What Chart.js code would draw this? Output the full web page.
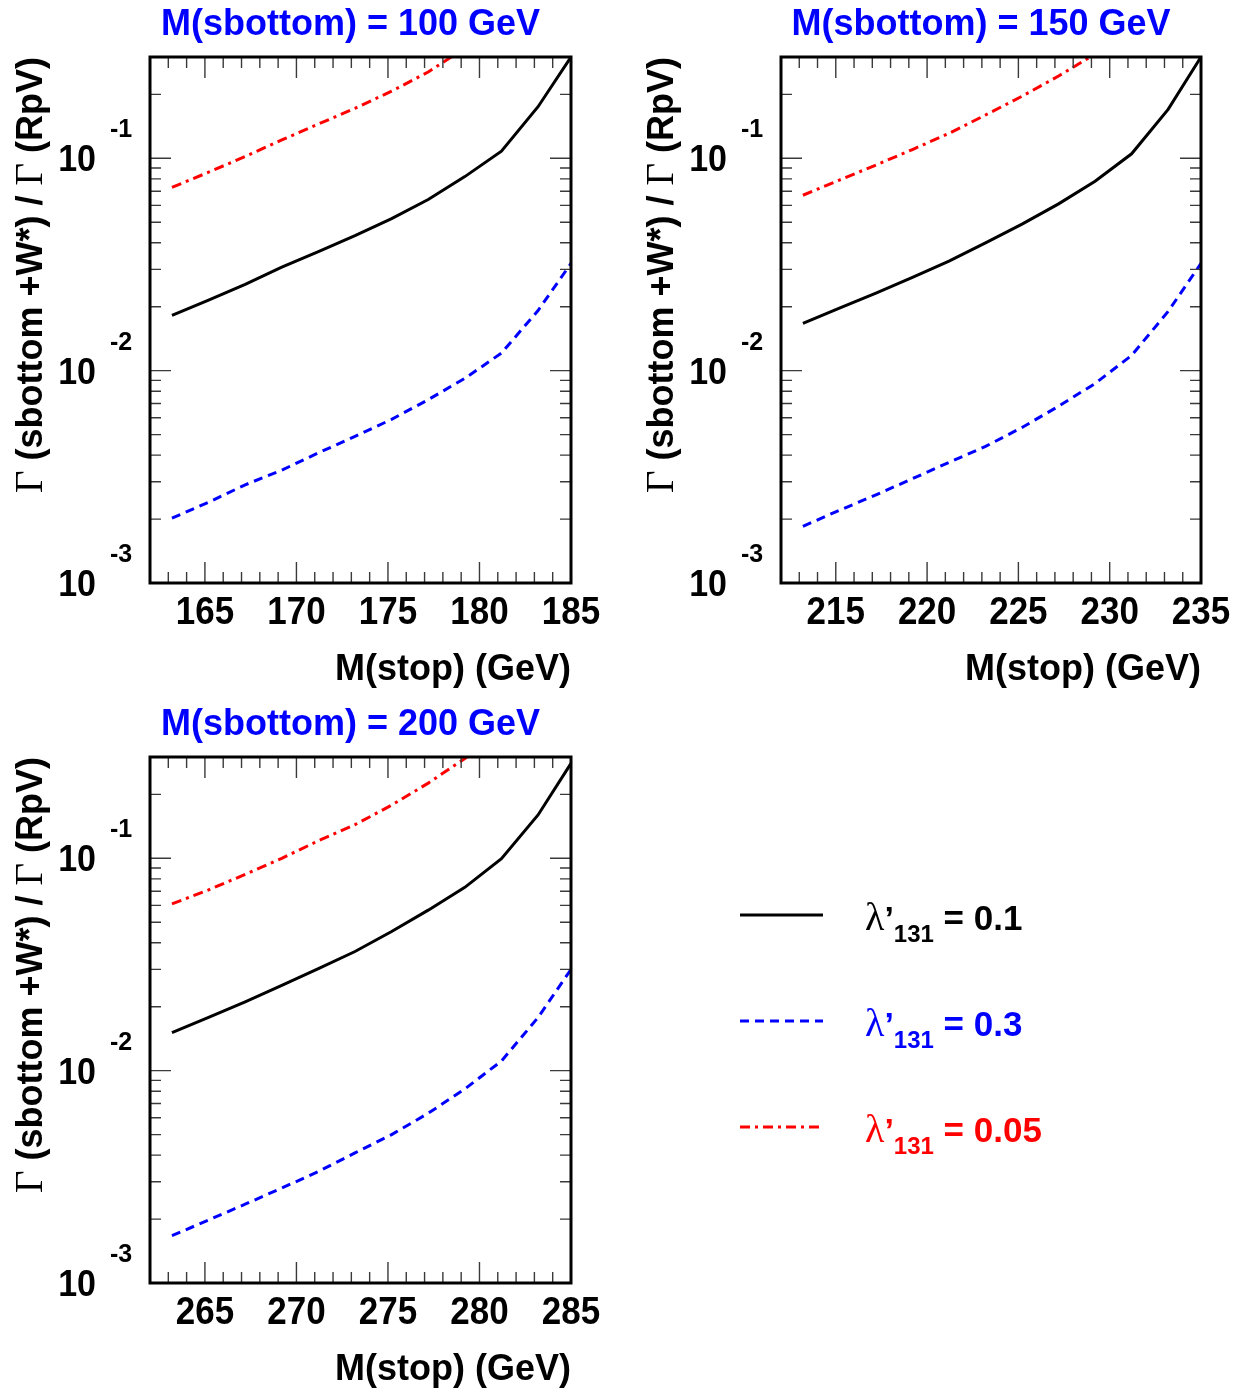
<!DOCTYPE html>
<html>
<head>
<meta charset="utf-8">
<script src="https://cdn.jsdelivr.net/npm/chart.js@4.4.0/dist/chart.umd.min.js"></script>
<style>
  body { margin: 0; background: #fff; }
  #page { position: relative; width: 1243px; height: 1391px; }
  canvas { position: absolute; }
</style>
</head>
<body>
<div id="page">
  <canvas id="panel100" style="left:0;top:0" width="621" height="700"></canvas>
  <canvas id="panel150" style="left:621px;top:0" width="622" height="700"></canvas>
  <canvas id="panel200" style="left:0;top:700px" width="1243" height="691"></canvas>
</div>
<script>
const sbottomMasses = [100, 150, 200];

// stop masses (GeV) and width ratios for each sbottom mass
const stop100 = [163.2, 165.2, 167.2, 169.2, 171.2, 173.2, 175.2, 177.2, 179.2, 181.2, 183.2, 185];
const ratio100Lam01 = [0.0182, 0.0215, 0.0255, 0.0307, 0.0364, 0.0432, 0.052, 0.064, 0.082, 0.108, 0.175, 0.30];
const ratio100Lam03 = [0.00202, 0.0024, 0.0029, 0.0034, 0.0041, 0.0049, 0.0059, 0.0073, 0.0092, 0.0121, 0.0192, 0.032];
const ratio100Lam005 = [0.073, 0.086, 0.102, 0.122, 0.145, 0.172, 0.207, 0.255, 0.33];

const stop150 = [213.2, 215.2, 217.2, 219.2, 221.2, 223.2, 225.2, 227.2, 229.2, 231.2, 233.2, 235];
const ratio150Lam01 = [0.0167, 0.0197, 0.0232, 0.0275, 0.0328, 0.040, 0.049, 0.061, 0.078, 0.105, 0.170, 0.30];
const ratio150Lam03 = [0.00185, 0.0022, 0.0026, 0.0031, 0.0037, 0.0044, 0.0054, 0.0068, 0.0087, 0.0118, 0.019, 0.032];
const ratio150Lam005 = [0.067, 0.079, 0.093, 0.110, 0.131, 0.160, 0.196, 0.244, 0.31];

const stop200 = [263.2, 265.2, 267.2, 269.2, 271.2, 273.2, 275.2, 277.2, 279.2, 281.2, 283.2, 285];
const ratio200Lam01 = [0.0151, 0.0178, 0.0211, 0.0252, 0.0302, 0.0364, 0.0452, 0.057, 0.073, 0.0995, 0.16, 0.28];
const ratio200Lam03 = [0.00167, 0.00198, 0.00235, 0.0028, 0.00335, 0.0041, 0.0050, 0.0063, 0.0082, 0.0111, 0.0178, 0.030];
const ratio200Lam005 = [0.061, 0.071, 0.084, 0.100, 0.121, 0.144, 0.178, 0.226, 0.295, 0.40];

const stopTicks100 = [165, 170, 175, 180, 185];
const stopTicks150 = [215, 220, 225, 230, 235];
const stopTicks200 = [265, 270, 275, 280, 285];
const ratioExponents = [-1, -2, -3];
const couplings = ['0.1', '0.3', '0.05'];

const SANS = '"Liberation Sans", Arial, sans-serif';
const SERIF = '"Liberation Serif", "DejaVu Serif", serif';

function pts(xs, ys) {
  return ys.map((y, i) => ({ x: xs[i], y: y }));
}

function lineSets(xs, l01, l03, l005) {
  return [
    { label: couplings[0], data: pts(xs, l01), borderColor: '#000000', borderWidth: 3, borderDash: [] },
    { label: couplings[1], data: pts(xs, l03), borderColor: '#0000ff', borderWidth: 3, borderDash: [9, 6] },
    { label: couplings[2], data: pts(xs, l005), borderColor: '#ff0000', borderWidth: 3, borderDash: [10, 5, 3, 5] }
  ];
}

// text drawn a bit taller than the font's own proportions
function tallText(ctx, t, x, y, sy) {
  ctx.save();
  ctx.translate(x, y);
  ctx.scale(1, sy);
  ctx.fillText(t, 0, 0);
  ctx.restore();
}

// draws the text pieces one after another, returns the end x
function drawRuns(ctx, runs, x, y) {
  for (const r of runs) {
    ctx.font = r.font;
    ctx.fillText(r.t, x, y + (r.dy || 0));
    x += ctx.measureText(r.t).width;
  }
  return x;
}
function runsWidth(ctx, runs) {
  let w = 0;
  for (const r of runs) { ctx.font = r.font; w += ctx.measureText(r.t).width; }
  return w;
}

const rootFrame = {
  id: 'rootFrame',
  afterDatasetsDraw(chart, args, opts) {
    const ctx = chart.ctx;
    const { left, top, right, bottom } = chart.chartArea;
    const xs = chart.scales.x, ys = chart.scales.y;
    ctx.save();

    // inward ticks on all four sides
    ctx.strokeStyle = '#3a3a3a';
    ctx.lineWidth = 1.4;
    ctx.beginPath();
    for (let v = Math.ceil(xs.min); v <= xs.max; v++) {
      const len = opts.ticks.includes(v) ? 21 : 11;
      const px = xs.getPixelForValue(v);
      ctx.moveTo(px, bottom); ctx.lineTo(px, bottom - len);
      ctx.moveTo(px, top); ctx.lineTo(px, top + len);
    }
    for (let e = -3; e <= 0; e++) {
      for (let m = 1; m <= 9; m++) {
        const v = m * Math.pow(10, e);
        if (v < ys.min || v > ys.max) continue;
        const len = m === 1 ? 21 : 11;
        const py = ys.getPixelForValue(v);
        ctx.moveTo(left, py); ctx.lineTo(left + len, py);
        ctx.moveTo(right, py); ctx.lineTo(right - len, py);
      }
    }
    ctx.stroke();

    // frame
    ctx.strokeStyle = '#000';
    ctx.lineWidth = 3;
    ctx.strokeRect(left, top, right - left, bottom - top);

    // x tick labels
    ctx.fillStyle = '#000';
    ctx.font = 'bold 35px ' + SANS;
    ctx.textAlign = 'center';
    ctx.textBaseline = 'alphabetic';
    for (const v of opts.ticks) {
      tallText(ctx, String(v), xs.getPixelForValue(v), bottom + 41, 1.1);
    }

    // y tick labels as powers of ten
    for (const e of ratioExponents) {
      const py = ys.getPixelForValue(Math.pow(10, e));
      ctx.font = 'bold 34px ' + SANS;
      ctx.textAlign = 'right';
      tallText(ctx, '10', left - 54, py + 13, 1.1);
      ctx.font = 'bold 25px ' + SANS;
      ctx.textAlign = 'left';
      tallText(ctx, String(e), left - 40, py - 21, 1.05);
    }

    // x axis title
    ctx.font = 'bold 36px ' + SANS;
    ctx.textAlign = 'right';
    tallText(ctx, 'M(stop) (GeV)', right, bottom + 97, 1.05);

    // y axis title, rotated
    const bold = 'bold 36px ' + SANS, greek = '39px ' + SERIF;
    const yRuns = [
      { t: 'Γ', font: greek }, { t: ' (sbottom +W*) / ', font: bold },
      { t: 'Γ', font: greek }, { t: ' (RpV)', font: bold }
    ];
    ctx.save();
    ctx.translate(left - 108, top);
    ctx.rotate(-Math.PI / 2);
    ctx.textAlign = 'left';
    drawRuns(ctx, yRuns, -runsWidth(ctx, yRuns), 0);
    ctx.restore();

    // panel title
    ctx.fillStyle = '#0000ff';
    ctx.font = 'bold 36px ' + SANS;
    ctx.textAlign = 'center';
    ctx.fillText(opts.title, (left + right) / 2 - 10, top - 22);

    // legend, only on the bottom panel
    if (opts.legend) {
      chart.data.datasets.forEach((ds, i) => {
        const ly = 215 + i * 106;
        ctx.strokeStyle = ds.borderColor;
        ctx.lineWidth = 3;
        ctx.setLineDash(ds.borderDash);
        ctx.beginPath();
        ctx.moveTo(740, ly); ctx.lineTo(823, ly);
        ctx.stroke();
        ctx.setLineDash([]);
        ctx.fillStyle = ds.borderColor;
        ctx.textAlign = 'left';
        drawRuns(ctx, [
          { t: 'λ', font: '40px ' + SERIF },
          { t: '’', font: 'bold 34px ' + SANS },
          { t: '131', font: 'bold 24px ' + SANS, dy: 12 },
          { t: ' = ' + ds.label, font: 'bold 35px ' + SANS }
        ], 865, ly + 15);
      });
    }
    ctx.restore();
  }
};

function makePanel(id, xs, l01, l03, l005, xmin, xmax, ticks, mass, pad, legend) {
  return new Chart(document.getElementById(id), {
    type: 'line',
    data: { datasets: lineSets(xs, l01, l03, l005) },
    options: {
      responsive: false,
      animation: false,
      devicePixelRatio: 1,
      layout: { padding: pad },
      elements: { point: { radius: 0 }, line: { tension: 0 } },
      datasets: { line: { clip: 0 } },
      scales: {
        x: { type: 'linear', min: xmin, max: xmax, display: false },
        y: { type: 'logarithmic', min: 0.001, max: 0.3, display: false }
      },
      plugins: {
        legend: { display: false },
        tooltip: { enabled: false },
        rootFrame: { ticks: ticks, title: 'M(sbottom) = ' + mass + ' GeV', legend: legend }
      }
    },
    plugins: [rootFrame]
  });
}

makePanel('panel100', stop100, ratio100Lam01, ratio100Lam03, ratio100Lam005, 162, 185, stopTicks100,
  sbottomMasses[0], { left: 150, top: 57, right: 50, bottom: 117 }, false);
makePanel('panel150', stop150, ratio150Lam01, ratio150Lam03, ratio150Lam005, 212, 235, stopTicks150,
  sbottomMasses[1], { left: 160, top: 57, right: 42, bottom: 117 }, false);
makePanel('panel200', stop200, ratio200Lam01, ratio200Lam03, ratio200Lam005, 262, 285, stopTicks200,
  sbottomMasses[2], { left: 150, top: 57, right: 672, bottom: 108 }, true);
</script>
</body>
</html>
